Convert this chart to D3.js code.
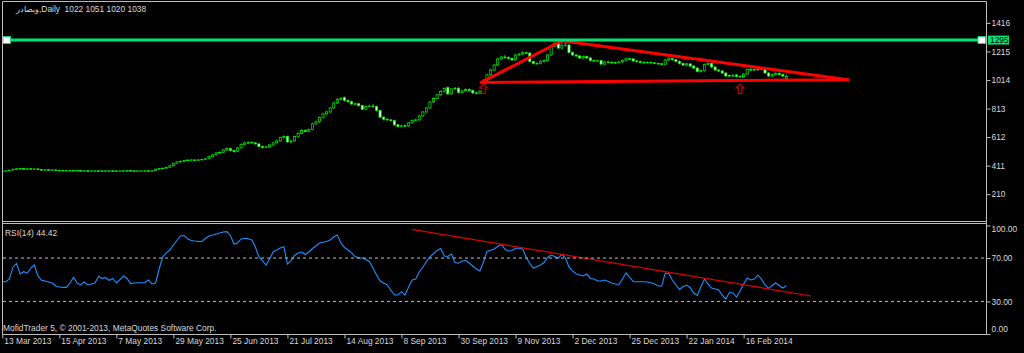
<!DOCTYPE html>
<html>
<head>
<meta charset="utf-8">
<style>
  body { margin: 0; background: #000; }
  text { font-family: "Liberation Sans", Arial, sans-serif; font-size: 8.4px; fill: #d8d8d8; }
</style>
</head>
<body>
<script src="https://cdnjs.cloudflare.com/ajax/libs/d3/7.8.5/d3.min.js"></script>
<script>

  const width = 1024,
        height = 353,
        colors = {candle: '#00f000',
                  hline: '#00e676',
                  trend: '#ff0000',
                  rsi: '#1e90ff',
                  arrow: '#b40000',
                  frame: '#bdbdbd'}

  // daily bars
  const open = [370,372,375,380,386,389,390,388,389,387,
    388,383,381,382,380,381,378,377,375,376,
    377,375,376,374,375,373,374,375,374,373,
    374,375,374,373,374,375,376,374,373,374,
    374,375,374,376,386,390,393,398,410,428,
    438,441,448,450,451,449,452,455,460,476,
    487,501,505,522,532,517,512,536,561,571,
    575,571,564,546,539,543,557,571,585,608,
    617,578,585,617,638,659,652,666,705,719,
    750,775,789,817,852,877,890,870,861,845,
    847,833,808,827,831,827,799,752,738,733,
    728,698,686,692,691,712,729,733,761,789,
    817,859,884,909,933,960,916,951,956,926,
    937,947,940,923,921,1000,1010,1050,1084,1119,
    1162,1176,1172,1165,1155,1190,1197,1206,1204,1144,
    1131,1131,1143,1151,1190,1253,1271,1239,1257,1260,
    1207,1190,1183,1169,1179,1169,1151,1150,1150,1126,
    1141,1138,1134,1137,1141,1151,1164,1162,1148,1143,
    1138,1138,1138,1134,1131,1128,1125,1155,1164,1157,
    1145,1130,1119,1127,1112,1098,1074,1081,1123,1130,
    1105,1084,1077,1063,1045,1042,1049,1039,1037,1056,
    1088,1084,1089,1089,1095,1063,1042,1053,1061,1053,
    1022]
  const high = [374,376,381,388,392,393,392,391,391,390,
    390,385,384,384,383,383,380,379,378,379,
    379,378,378,377,377,376,377,377,376,376,
    377,377,376,376,377,378,378,376,376,376,
    377,377,377,389,393,396,402,414,432,443,
    446,452,455,456,455,456,459,464,481,493,
    507,512,528,540,538,522,541,567,580,582,
    583,577,569,552,549,562,577,592,614,625,
    622,592,623,645,667,666,673,712,728,757,
    783,797,825,860,886,895,897,878,868,856,
    855,840,835,840,845,834,805,760,746,740,
    735,705,699,700,718,736,740,768,796,824,
    866,892,917,941,962,968,958,964,963,945,
    955,955,947,930,942,1020,1058,1092,1128,1170,
    1185,1190,1180,1172,1198,1205,1215,1214,1208,1150,
    1140,1152,1160,1198,1262,1285,1280,1290,1275,1268,
    1215,1198,1190,1186,1186,1176,1158,1158,1156,1148,
    1148,1145,1144,1148,1158,1172,1170,1169,1155,1150,
    1145,1145,1144,1140,1137,1134,1162,1172,1171,1163,
    1152,1137,1134,1134,1119,1105,1088,1130,1138,1137,
    1112,1091,1084,1070,1052,1056,1056,1046,1063,1095,
    1110,1096,1096,1102,1102,1070,1060,1068,1068,1060,
    1051]
  const low = [368,370,373,378,384,387,386,386,385,385,
    381,379,379,378,378,376,375,373,373,374,
    373,373,372,372,371,371,372,372,371,371,
    372,372,371,371,372,373,372,371,371,372,
    372,372,372,374,383,387,390,395,406,424,
    434,437,444,446,444,445,448,451,456,470,
    482,496,499,515,512,503,506,530,555,563,
    565,558,540,532,534,538,551,566,580,600,
    572,570,580,610,632,645,645,660,698,712,
    743,768,782,810,845,870,862,853,838,838,
    826,800,800,820,820,792,745,730,726,720,
    690,680,680,684,684,705,722,727,755,782,
    810,852,877,902,926,908,908,944,918,918,
    930,932,915,913,914,995,1004,1042,1076,1110,
    1155,1165,1158,1148,1148,1182,1190,1196,1136,1122,
    1122,1124,1136,1144,1183,1245,1232,1230,1248,1200,
    1182,1176,1162,1162,1162,1144,1142,1142,1118,1118,
    1131,1128,1127,1130,1135,1145,1155,1141,1136,1131,
    1131,1131,1127,1125,1121,1118,1118,1148,1150,1138,
    1123,1112,1112,1105,1091,1067,1067,1074,1116,1098,
    1077,1070,1056,1035,1035,1035,1032,1030,1030,1049,
    1077,1077,1082,1082,1056,1035,1035,1046,1046,1035,
    1020]
  const close = [372,374,379,386,389,390,388,389,387,388,
    383,381,382,380,381,378,377,375,376,377,
    375,376,374,375,373,374,375,374,373,374,
    375,374,373,374,375,376,374,373,374,374,
    375,374,375,386,390,393,398,410,428,438,
    441,448,450,451,449,452,455,459,476,487,
    501,504,522,532,517,510,536,561,571,573,
    571,564,546,539,543,557,571,585,608,617,
    578,585,617,638,659,652,666,705,719,750,
    775,789,817,852,877,884,870,861,845,847,
    833,808,827,831,827,799,752,738,733,728,
    698,686,692,691,712,729,733,761,789,817,
    859,884,909,933,954,916,951,956,926,937,
    947,940,923,921,935,1010,1050,1084,1119,1162,
    1176,1172,1165,1155,1190,1197,1206,1204,1144,1131,
    1131,1143,1151,1190,1253,1271,1239,1257,1260,1207,
    1190,1183,1169,1179,1169,1151,1150,1150,1126,1141,
    1138,1134,1137,1141,1151,1164,1162,1148,1143,1138,
    1138,1138,1134,1131,1128,1125,1155,1164,1157,1145,
    1130,1119,1127,1112,1098,1074,1081,1123,1130,1105,
    1084,1077,1063,1042,1042,1049,1039,1037,1056,1088,
    1084,1089,1089,1095,1063,1042,1053,1061,1053,1042,
    1038]
  const rsi = [48.2,48.2,50.7,61.8,65.0,55.3,57.4,56.2,60.8,63.6,
    53.5,49.5,48.8,47.9,47.0,44.2,43.3,43.0,43.0,47.0,
    52.3,47.0,45.2,47.9,45.2,46.1,47.0,53.0,51.3,51.9,
    49.5,51.2,47.0,50.2,53.5,51.2,46.5,47.0,47.3,47.3,
    47.5,49.8,46.1,47.0,59.9,71.0,74.7,77.4,82.0,86.2,
    90.3,90.8,87.7,86.2,85.7,85.4,85.3,88.0,90.3,91.2,
    92.2,93.1,94.0,94.3,90.8,82.9,83.9,87.6,88.2,87.7,
    86.6,80.2,71.0,67.3,63.6,69.1,75.6,77.4,79.3,80.5,
    64.5,67.3,72.4,74.7,75.6,73.3,75.6,78.8,81.1,83.9,
    84.6,85.3,86.6,89.4,91.2,83.9,79.7,77.4,74.7,71.4,
    70.0,70.0,68.7,66.8,60.8,54.4,48.8,47.0,45.2,40.6,
    35.9,35.9,39.0,35.9,43.3,49.8,50.7,57.1,61.8,66.8,
    71.0,74.2,77.0,78.8,71.9,71.4,73.7,65.9,65.2,67.3,
    67.7,65.4,62.7,59.9,58.1,66.4,76.0,77.1,78.3,80.6,
    82.5,78.3,76.5,77.0,79.0,79.0,78.3,70.5,65.0,60.5,
    62.2,63.6,65.9,70.5,72.8,71.4,69.8,73.7,70.0,61.8,
    58.1,55.6,54.4,53.5,55.3,51.2,50.7,48.8,48.8,49.8,
    48.4,47.0,46.1,45.6,50.7,56.2,52.5,48.4,48.2,48.2,
    48.2,47.9,47.3,46.1,44.2,44.2,56.2,55.8,49.8,45.2,
    41.0,43.8,44.9,42.9,37.8,35.5,43.3,50.7,46.1,42.4,
    41.5,40.6,35.9,32.3,38.2,37.8,34.1,39.6,46.1,51.6,
    49.8,50.7,54.4,50.7,45.2,42.1,44.7,47.0,44.7,42.4,
    44.42]

  const dates = ['13 Mar 2013', '15 Apr 2013', '7 May 2013', '29 May 2013', '25 Jun 2013',
                 '21 Jul 2013', '14 Aug 2013', '8 Sep 2013', '30 Sep 2013', '9 Nov 2013',
                 '2 Dec 2013', '25 Dec 2013', '22 Jan 2014', '16 Feb 2014']
  const dateBars = [0, 16, 32, 48, 64, 80, 96, 112, 128, 144, 160, 176, 192, 208]
  const priceTicks = [1416, 1215, 1014, 813, 612, 411, 210]
  const rsiTicks = [100, 70, 30, 0]
  const rsiLevels = [70, 30]

  // drawn objects
  const hlineLevel = 1295
  const triBars = [134.3, 157, 237.3],
        triPrices = [996, 1290, 1016]
  const arrowBars = [135, 207],
        arrowPrices = [986, 986]
  const rsiTrendBars = [114.9, 226.9],
        rsiTrendValues = [96.5, 35.0]

  const frame = {left: 2.5, right: 986.5, top: 1.5, mainBottom: 221.5, rsiTop: 223.5, rsiBottom: 334.5}

  const xScale = d3.scaleLinear().domain([0, 220]).range([2.3, 786.4])
  const yPrice = d3.scaleLinear().domain([21, 1563]).range([221, 2])
  const yRsi = d3.scaleLinear().domain([0, 100]).range([334, 225.5])

  const svg = d3.select("body")
    .append("svg")
      .attr("width", width)
      .attr("height", height)
      .style("display", "block")
      .style("background", "#000")

  const defs = svg.append("defs")
  defs.append("clipPath").attr("id", "clipMain")
    .append("rect").attr("x", 3).attr("y", 2).attr("width", 983).attr("height", 219)
  defs.append("clipPath").attr("id", "clipRsi")
    .append("rect").attr("x", 3).attr("y", 224).attr("width", 983).attr("height", 110)

  const main = svg.append("g").attr("clip-path", "url(#clipMain)")
  const sub = svg.append("g").attr("clip-path", "url(#clipRsi)")

  // candles
  const bars = d3.range(close.length)
  main.selectAll(".wick")
    .data(bars)
    .join("line")
      .attr("class", "wick")
      .attr("x1", i => xScale(i)).attr("x2", i => xScale(i))
      .attr("y1", i => yPrice(high[i])).attr("y2", i => yPrice(low[i]))
      .attr("stroke", colors.candle)
      .attr("stroke-width", 0.8)
  main.selectAll(".body")
    .data(bars)
    .join("rect")
      .attr("class", "body")
      .attr("x", i => xScale(i) - 1.1)
      .attr("width", 2.2)
      .attr("y", i => yPrice(Math.max(open[i], close[i])))
      .attr("height", i => Math.max(0.6, Math.abs(yPrice(open[i]) - yPrice(close[i]))))
      .attr("fill", i => close[i] < open[i] ? "#eaffea" : "#000000")
      .attr("stroke", colors.candle)
      .attr("stroke-width", 0.7)

  // triangle trend lines
  const triPts = triBars.map((b, i) => [xScale(b), yPrice(triPrices[i])])
  main.append("path")
    .attr("d", d3.line()(triPts) + "Z")
    .attr("fill", "none")
    .attr("stroke", colors.trend)
    .attr("stroke-width", 3)
    .attr("stroke-linejoin", "round")

  // horizontal line
  const yH = yPrice(hlineLevel)
  svg.append("line")
    .attr("x1", frame.left).attr("x2", frame.right)
    .attr("y1", yH).attr("y2", yH)
    .attr("stroke", colors.hline)
    .attr("stroke-width", 3)
  svg.selectAll(".handle")
    .data([3, 978])
    .join("rect")
      .attr("class", "handle")
      .attr("x", d => d).attr("y", yH - 3.5)
      .attr("width", 7.5).attr("height", 7)
      .attr("fill", "#fff")
      .attr("stroke", colors.hline)
      .attr("stroke-width", 0.8)

  // arrows under the support line
  svg.selectAll(".arrow")
    .data(arrowBars)
    .join("path")
      .attr("class", "arrow")
      .attr("transform", (d, i) => `translate(${xScale(d)}, ${yPrice(arrowPrices[i])})`)
      .attr("d", "M0,0 L4,4 L1.8,4 L1.8,9.5 L-1.8,9.5 L-1.8,4 L-4,4 Z")
      .attr("fill", "#000")
      .attr("stroke", colors.arrow)
      .attr("stroke-width", 1.3)

  // RSI
  svg.selectAll(".level")
    .data(rsiLevels)
    .join("line")
      .attr("class", "level")
      .attr("x1", 3).attr("x2", frame.right)
      .attr("y1", d => yRsi(d)).attr("y2", d => yRsi(d))
      .attr("stroke", colors.frame)
      .attr("stroke-dasharray", "3,3")
  sub.append("path")
    .datum(rsi)
    .attr("d", d3.line().x((d, i) => xScale(i)).y(d => yRsi(d)))
    .attr("fill", "none")
    .attr("stroke", colors.rsi)
    .attr("stroke-width", 1.1)
  sub.append("line")
    .attr("x1", xScale(rsiTrendBars[0])).attr("y1", yRsi(rsiTrendValues[0]))
    .attr("x2", xScale(rsiTrendBars[1])).attr("y2", yRsi(rsiTrendValues[1]))
    .attr("stroke", "#e00000")
    .attr("stroke-width", 1.2)

  // frames
  const frameLines = [
    [frame.left, frame.top, frame.right, frame.top],
    [frame.left, frame.top, frame.left, frame.rsiBottom],
    [frame.right, frame.top, frame.right, frame.rsiBottom],
    [frame.left, frame.mainBottom, frame.right, frame.mainBottom],
    [frame.left, frame.rsiTop, frame.right, frame.rsiTop],
    [frame.left, frame.rsiBottom, frame.right, frame.rsiBottom]
  ]
  svg.selectAll(".frame")
    .data(frameLines)
    .join("line")
      .attr("class", "frame")
      .attr("x1", d => d[0]).attr("y1", d => d[1])
      .attr("x2", d => d[2]).attr("y2", d => d[3])
      .attr("stroke", colors.frame)

  // axes
  function styleAxis(g) {
    g.select(".domain").remove()
    g.selectAll(".tick line").attr("stroke", colors.frame)
  }

  svg.append("g")
    .attr("transform", `translate(${frame.right}, 0)`)
    .call(d3.axisRight(yPrice).tickValues(priceTicks).tickSize(4).tickFormat(d3.format("d")))
    .call(styleAxis)
    .selectAll("text").attr("x", 5)

  const gRsiAxis = svg.append("g")
    .attr("transform", `translate(${frame.right}, 0)`)
    .call(d3.axisRight(yRsi).tickValues(rsiTicks).tickSize(4).tickFormat(d3.format(".2f")))
    .call(styleAxis)
  gRsiAxis.selectAll("text")
    .attr("x", 5)
    .attr("y", d => d === 100 ? 3 : d === 0 ? -5 : 0)

  svg.append("g")
    .attr("transform", `translate(0, ${frame.rsiBottom})`)
    .call(d3.axisBottom(xScale).tickValues(dateBars).tickSize(4).tickFormat((d, i) => dates[i]))
    .call(styleAxis)
    .selectAll("text")
      .attr("x", 1.5)
      .attr("y", 4)
      .style("text-anchor", "start")

  // price tag of the horizontal line
  svg.append("rect")
    .attr("x", 988).attr("y", yH - 4.5)
    .attr("width", 21).attr("height", 9)
    .attr("fill", colors.hline)
  svg.append("text")
    .attr("x", 990).attr("y", yH + 3)
    .style("fill", "#000")
    .text(hlineLevel)

  // labels
  svg.append("text")
    .attr("x", 16).attr("y", 12)
    .style("white-space", "pre")
    .text("وبصادر,Daily  1022 1051 1020 1038")
  svg.append("text")
    .attr("x", 5).attr("y", 236)
    .text(`RSI(14) ${rsi[rsi.length - 1].toFixed(2)}`)
  svg.append("text")
    .attr("x", 3).attr("y", 331)
    .text("MofidTrader 5, © 2001-2013, MetaQuotes Software Corp.")

</script>
</body>
</html>
